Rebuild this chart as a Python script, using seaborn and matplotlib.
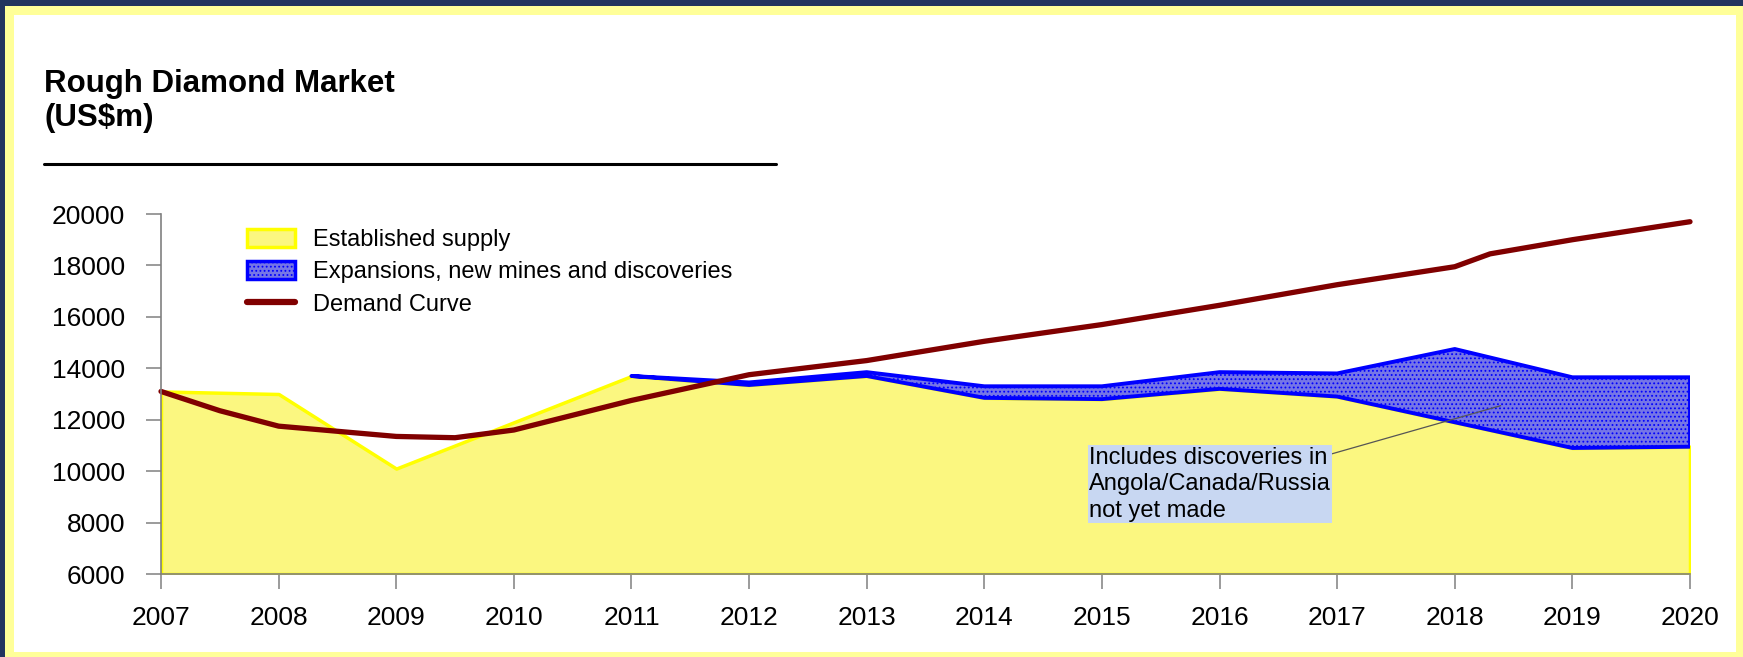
import matplotlib
matplotlib.use("Agg")
import matplotlib.pyplot as plt
from matplotlib.patches import Rectangle, Patch
from matplotlib.lines import Line2D
import seaborn as sns

# ---------------- data ----------------
years = [2007, 2008, 2009, 2010, 2011, 2012, 2013, 2014, 2015, 2016, 2017, 2018, 2019, 2020]
established_supply = [13100, 13000, 10100, 11900, 13700, 13350, 13700, 12850, 12800, 13200, 12900, 11900, 10900, 10950]

expansion_years = [2011, 2012, 2013, 2014, 2015, 2016, 2017, 2018, 2019, 2020]
total_with_expansions = [13700, 13450, 13850, 13300, 13300, 13850, 13800, 14750, 13650, 13650]

demand_years = [2007, 2007.5, 2008, 2008.5, 2009, 2009.5, 2010, 2011, 2012, 2013,
                2014, 2015, 2016, 2017, 2018, 2018.3, 2019, 2020]
demand_values = [13100, 12350, 11750, 11550, 11350, 11300, 11600, 12750, 13750, 14300,
                 15050, 15700, 16450, 17250, 17950, 18450, 19000, 19700]

y_ticks = [6000, 8000, 10000, 12000, 14000, 16000, 18000, 20000]

title_lines = ["Rough Diamond Market", "(US$m)"]
legend_labels = ["Established supply", "Expansions, new mines and discoveries", "Demand Curve"]
note_text = "Includes discoveries in\nAngola/Canada/Russia\nnot yet made"

# ---------------- style ----------------
sns.set_theme(style="ticks")
plt.rcParams["font.family"] = ["Liberation Sans", "DejaVu Sans"]
plt.rcParams["text.color"] = "black"
plt.rcParams["hatch.linewidth"] = 0.8

W, H = 1743, 657
NAVY = "#22345e"
BORDER_YELLOW = "#ffff99"
FILL_YELLOW = "#fbf780"
EDGE_YELLOW = "#ffff00"
BLUE_FILL = "#7676e6"
BLUE_EDGE = "#0000ff"
DEMAND = "#800000"
GREY = "#808080"

fig = plt.figure(figsize=(W / 100, H / 100), dpi=100, facecolor=NAVY)

# slide frame: yellow border + white panel
fig.add_artist(Rectangle((5 / W, 0), (W - 5) / W, (H - 6) / H, transform=fig.transFigure,
                         facecolor=BORDER_YELLOW, edgecolor="none", zorder=0))
fig.add_artist(Rectangle((14 / W, 5 / H), (1736 - 14) / W, (652 - 15) / H, transform=fig.transFigure,
                         facecolor="white", edgecolor="none", zorder=0))

ax_left, ax_right, ax_top, ax_bottom = 161, 1690, 214, 574
ax = fig.add_axes([ax_left / W, (H - ax_bottom) / H, (ax_right - ax_left) / W, (ax_bottom - ax_top) / H])
ax.set_facecolor("none")

# established supply area
ax.fill_between(years, 6000, established_supply, facecolor=FILL_YELLOW,
                edgecolor=EDGE_YELLOW, linewidth=2.5, zorder=2)

# expansions band
lower_band = [established_supply[years.index(y)] for y in expansion_years]
ax.fill_between(expansion_years, lower_band, total_with_expansions, facecolor=BLUE_FILL,
                edgecolor=BLUE_EDGE, hatch="....", linewidth=2.8, zorder=3)

# demand curve
sns.lineplot(x=demand_years, y=demand_values, ax=ax, color=DEMAND, linewidth=3.8,
             zorder=5, sort=False, legend=False)
for ln in ax.lines:
    ln.set_solid_capstyle("round")
    ln.set_clip_on(False)

ax.set_xlim(2007, 2020)
ax.set_ylim(6000, 20000)
ax.set_xticks(years)
ax.set_xticklabels([str(y) for y in years])
ax.set_yticks(y_ticks)
ax.set_yticklabels([str(v) for v in y_ticks])
ax.set_xlabel("")
ax.set_ylabel("")

for s in ["top", "right"]:
    ax.spines[s].set_visible(False)
for s in ["left", "bottom"]:
    ax.spines[s].set_color(GREY)
    ax.spines[s].set_linewidth(1.2)
    ax.spines[s].set_zorder(6)

ax.tick_params(axis="both", which="major", length=11, width=1.1, color=GREY,
               labelsize=19, labelcolor="black", direction="out")
ax.tick_params(axis="x", pad=12)
ax.tick_params(axis="y", pad=15)

# legend
handles = [
    Patch(facecolor=FILL_YELLOW, edgecolor=EDGE_YELLOW, linewidth=2.5),
    Patch(facecolor=BLUE_FILL, edgecolor=BLUE_EDGE, hatch="....", linewidth=2.5),
    Line2D([0], [0], color=DEMAND, linewidth=4.5),
]
leg = fig.legend(handles, legend_labels, loc="upper left",
                 bbox_to_anchor=(247 / W, 1 - 229 / H), frameon=False,
                 fontsize=17, handlelength=2.05, handleheight=0.8,
                 handletextpad=0.75, labelspacing=0.42, borderpad=0, borderaxespad=0)

# annotation
ax.annotate(note_text, xy=(2018.39, 12545), xytext=(2014.89, 10954),
            textcoords="data", ha="left", va="top", fontsize=17, linespacing=1.27,
            bbox=dict(boxstyle="square,pad=0.05", facecolor="#c8d7f2", edgecolor="none"),
            arrowprops=dict(arrowstyle="-", color="#555555", lw=0.9, relpos=(1.0, 0.9),
                            shrinkA=0, shrinkB=0),
            zorder=7)

# title block
fig.text(44 / W, 1 - 92 / H, title_lines[0], fontsize=22.5, fontweight="bold",
         ha="left", va="baseline", color="black")
fig.text(44 / W, 1 - 126 / H, title_lines[1], fontsize=22.5, fontweight="bold",
         ha="left", va="baseline", color="black")
fig.add_artist(Line2D([44 / W, 776 / W], [1 - 164 / H, 1 - 164 / H], transform=fig.transFigure,
                      color="black", linewidth=2.2))

fig.savefig("out.png", dpi=100, facecolor=fig.get_facecolor())
